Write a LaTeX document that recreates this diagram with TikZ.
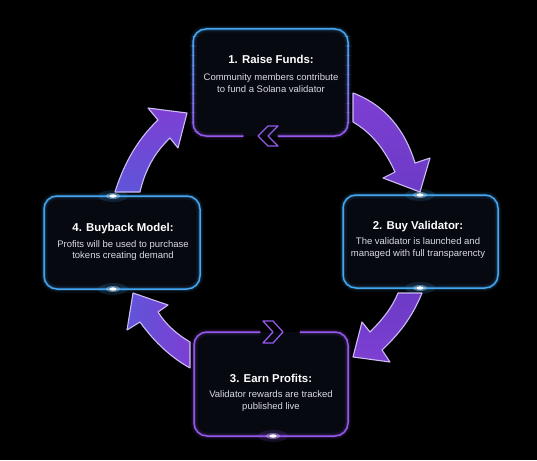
\documentclass[tikz,border=0pt]{standalone}
\usepackage{fontspec}
\setmainfont{Liberation Sans}
\definecolor{boxfill}{HTML}{070911}
\definecolor{cblue}{HTML}{45A6F2}
\definecolor{cpurp}{HTML}{9558EC}
\definecolor{arrline}{HTML}{CDBCF4}
\definecolor{txt}{HTML}{DADAE2}
\definecolor{aA}{HTML}{7D3FD3}
\definecolor{aB}{HTML}{6C3BC6}
\definecolor{aC}{HTML}{5F55D8}
\tikzset{
  boxnode/.style={rectangle, rounded corners=13pt, fill=boxfill, inner sep=0pt},
  border/.style={line width=1.5pt, rounded corners=13pt, line cap=round},
  glowA/.style={line width=7pt, rounded corners=13pt, opacity=0.08},
  glowB/.style={line width=3.5pt, rounded corners=13pt, opacity=0.18},
  chev/.style={draw=cpurp, line width=1.3pt, line join=round},
  arrowbody/.style={draw=arrline, line width=1.1pt, line join=round},
  ttl/.style={text=white, font=\fontsize{11.4}{13}\selectfont\bfseries, text height=8.2pt, text depth=0pt, inner sep=0pt},
  dsc/.style={text=txt, font=\fontsize{9.5}{11.5}\selectfont, align=center, inner sep=0pt},
}
\begin{document}
\begin{tikzpicture}[x=1pt,y=-1pt]
\fill[black] (0,0) rectangle (537,460);
\useasboundingbox (0,0) rectangle (537,460);

% box fills
\node[boxnode, minimum width=155pt, minimum height=107pt] (b1) at (270.5,82.5) {};
\node[boxnode, minimum width=155pt, minimum height=93pt] (b2) at (420.5,241.5) {};
\node[boxnode, minimum width=154pt, minimum height=104pt] (b3) at (271,384) {};
\node[boxnode, minimum width=156pt, minimum height=93pt] (b4) at (122,242.5) {};

% box 1 border, blue to purple
\foreach \i in {0,...,11} {
  \pgfmathtruncatemacro\p{100*\i/11}
  \begin{scope}
    \clip (180,{27+\i*9.5}) rectangle (360,{27+\i*9.5+9.6});
    \draw[glowA, draw=cpurp!\p!cblue] (278,136) -- (348,136) -- (348,29) -- (193,29) -- (193,136) -- (243,136);
    \draw[glowB, draw=cpurp!\p!cblue] (278,136) -- (348,136) -- (348,29) -- (193,29) -- (193,136) -- (243,136);
    \draw[border, draw=cpurp!\p!cblue] (278,136) -- (348,136) -- (348,29) -- (193,29) -- (193,136) -- (243,136);
  \end{scope}
}
% box 2 and 4 borders
\foreach \st in {glowA,glowB,border} {
  \draw[\st, draw=cblue] (343,195) rectangle (498,288);
  \draw[\st, draw=cblue] (44,196) rectangle (200,289);
  \draw[\st, draw=cpurp] (300,332) -- (348,332) -- (348,436) -- (194,436) -- (194,332) -- (260,332);
}

% chevrons
\draw[chev] (258,136) -- (268,126) -- (278,126) -- (268,136) -- (278,146) -- (268,146) -- cycle;
\draw[chev] (283,332) -- (273,321) -- (263,321) -- (273,332) -- (263,343) -- (273,343) -- cycle;

% glow dots
\foreach \x/\y/\c in {420/195/cblue, 420/288/cblue, 113/196/cblue, 113/289/cblue, 273/436/cpurp} {
  \fill[\c, opacity=.15] (\x,\y) ellipse [x radius=15, y radius=6];
  \fill[\c!50!white, opacity=.45] (\x,\y) ellipse [x radius=7, y radius=3];
  \fill[white] (\x,\y) ellipse [x radius=3.5, y radius=1.7];
}

% arrows
\path[arrowbody, top color=aA, bottom color=aB]
  (353,93) .. controls (385,105) and (405,130) .. (415,163)
  -- (430,158) -- (420,192) -- (383,178) -- (395,172)
  .. controls (385,150) and (372,133) .. (353,122) -- cycle;
\path[arrowbody, top color=aB, bottom color=aA]
  (422,293) .. controls (412,318) and (398,335) .. (382,350)
  -- (390,362) -- (353,357) -- (362,322) -- (370,332)
  .. controls (382,320) and (392,308) .. (398,293) -- cycle;
\path[arrowbody, left color=aC, right color=aA]
  (190,342) .. controls (178,335) and (166,325) .. (158,312)
  -- (168,305) -- (133,293) -- (127,330) -- (140,322)
  .. controls (155,343) and (172,358) .. (190,368) -- cycle;
\path[arrowbody, top color=aA, bottom color=aC]
  (115,192) .. controls (125,160) and (140,137) .. (158,120)
  -- (148,108) -- (187,113) -- (178,148) -- (170,138)
  .. controls (155,152) and (145,170) .. (140,192) -- cycle;

% texts
\node[ttl] (t1) at (271,59) {1. Raise Funds:};
\node[dsc] (d1) at (271,83) {Community members contribute\\to fund a Solana validator};
\node[ttl] (t2) at (418,225) {2. Buy Validator:};
\node[dsc] (d2) at (418,248) {The validator is launched and\\managed with full transparencty};
\node[ttl] (t3) at (271,378) {3. Earn Profits:};
\node[dsc] (d3) at (271,401) {Validator rewards are tracked\\published live};
\node[ttl] (t4) at (123,227.5) {4. Buyback Model:};
\node[dsc] (d4) at (123,250.5) {Profits will be used to purchase\\tokens creating demand};
\end{tikzpicture}
\end{document}
